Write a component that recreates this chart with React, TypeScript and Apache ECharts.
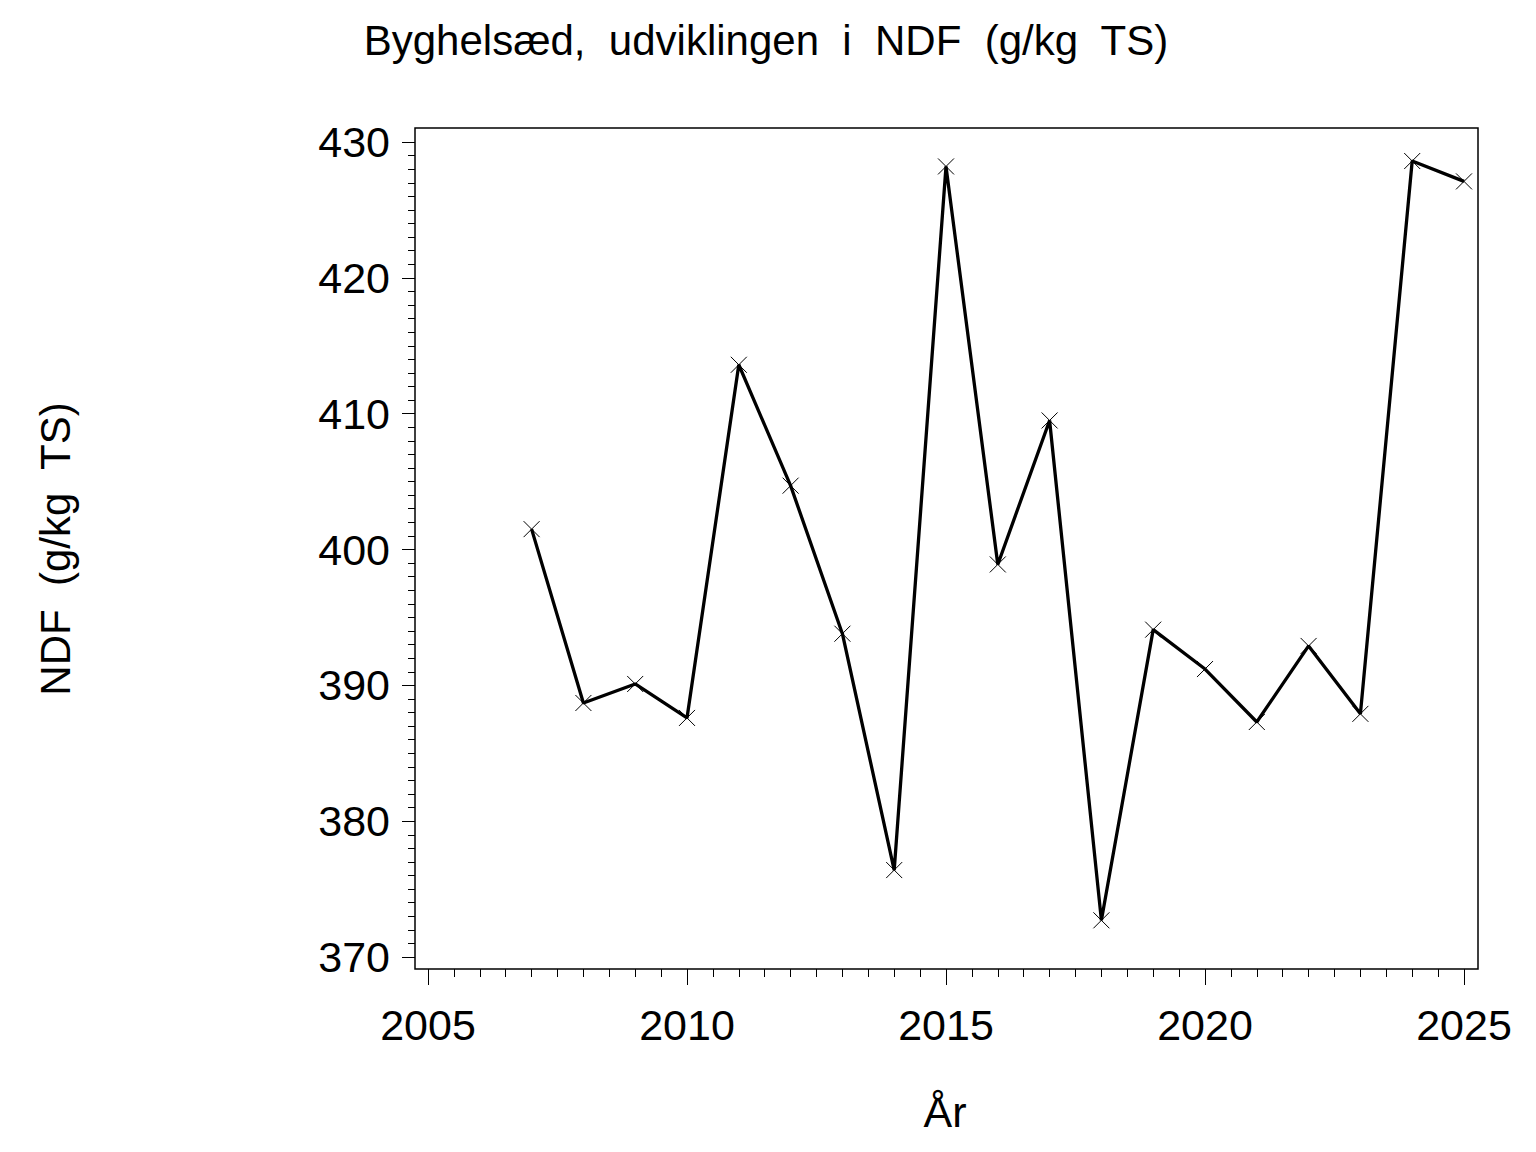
import React, { useEffect, useRef } from "react";
import * as echarts from "echarts";

const years = [2007, 2008, 2009, 2010, 2011, 2012, 2013, 2014, 2015, 2016, 2017, 2018, 2019, 2020, 2021, 2022, 2023, 2024, 2025];
const ndf = [401.5, 388.7, 390.1, 387.6, 413.6, 404.7, 393.8, 376.4, 428.2, 398.9, 409.5, 372.7, 394.1, 391.2, 387.3, 392.9, 387.9, 428.6, 427.1];

const titleText = "Byghelsæd,  udviklingen  i  NDF  (g/kg  TS)";
const xName = "År";
const yName = "NDF  (g/kg  TS)";

const FONT = "Liberation Sans, Arial, sans-serif";

export default function App() {
  const ref = useRef<HTMLDivElement>(null);
  useEffect(() => {
    if (!ref.current) return;
    const chart = echarts.init(ref.current, null, { renderer: "svg" });
    const data = years.map((y, i) => [y, ndf[i]]);
    chart.setOption({
      animation: false,
      backgroundColor: "#fff",
      grid: { left: 428, right: 72, top: 142, bottom: 195, containLabel: false },
      xAxis: {
        type: "value",
        min: 2005,
        max: 2025,
        interval: 5,
        offset: 12,
        axisLine: { show: false },
        axisTick: { show: true, length: 16, lineStyle: { color: "#000", width: 1 } },
        minorTick: { show: true, splitNumber: 10, length: 8, lineStyle: { color: "#000", width: 1 } },
        splitLine: { show: false },
        axisLabel: { color: "#000", fontSize: 43, fontFamily: FONT, margin: 34, formatter: (v: number) => String(v) },
      },
      yAxis: {
        type: "value",
        min: 370,
        max: 430,
        interval: 10,
        offset: 13,
        axisLine: { show: false },
        axisTick: { show: true, length: 13, lineStyle: { color: "#000", width: 1 } },
        minorTick: { show: true, splitNumber: 10, length: 7, lineStyle: { color: "#000", width: 1 } },
        splitLine: { show: false },
        axisLabel: { color: "#000", fontSize: 43, fontFamily: FONT, margin: 25 },
      },
      graphic: [
        {
          type: "rect",
          shape: { x: 415, y: 128, width: 1063, height: 841 },
          style: { fill: "none", stroke: "#000", lineWidth: 1.5 },
          silent: true,
          z: 10,
        },
        {
          type: "text",
          x: 766,
          y: 40,
          style: { text: titleText, font: `42px ${FONT}`, fill: "#000", textAlign: "center", textVerticalAlign: "middle" },
        },
        {
          type: "text",
          x: 945,
          y: 1112,
          style: { text: xName, font: `43px ${FONT}`, fill: "#000", textAlign: "center", textVerticalAlign: "middle" },
        },
        {
          type: "text",
          x: 55,
          y: 549,
          rotation: Math.PI / 2,
          style: { text: yName, font: `42px ${FONT}`, fill: "#000", textAlign: "center", textVerticalAlign: "middle" },
        },
      ],
      series: [
        {
          type: "line",
          data,
          symbol: "path://M0,0L10,10M10,0L0,10",
          symbolSize: 16,
          showSymbol: true,
          lineStyle: { color: "#000", width: 3.3 },
          itemStyle: { color: "transparent", borderColor: "#000", borderWidth: 1 },
          z: 5,
        },
      ],
    });
    return () => chart.dispose();
  }, []);
  return <div ref={ref} style={{ width: 1536, height: 1152, position: "absolute", left: 0, top: 0 }} />;
}
